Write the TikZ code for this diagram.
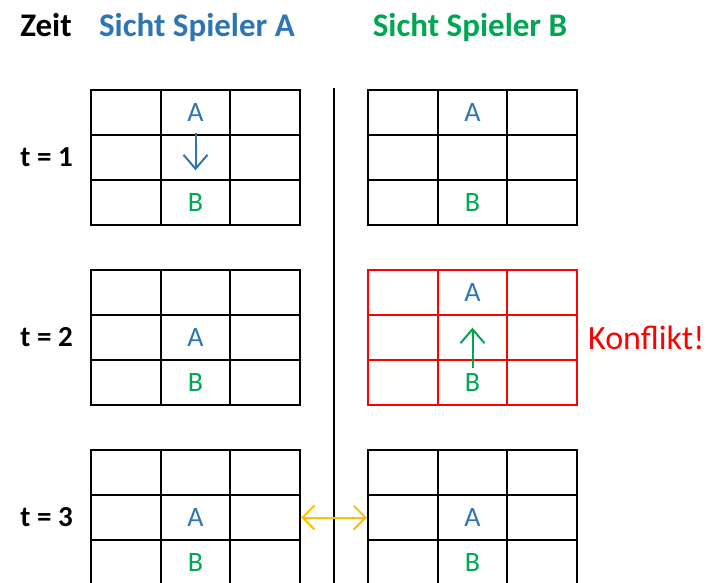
\documentclass[tikz,border=0pt]{standalone}
\usepackage{fontspec}
\setmainfont{Carlito}
\usepackage{xcolor}
\usetikzlibrary{arrows.meta, positioning}
\definecolor{spielerblau}{RGB}{46,117,182}
\definecolor{spielergruen}{RGB}{0,166,81}
\definecolor{konfliktrot}{RGB}{255,0,0}
\definecolor{tauschgelb}{RGB}{255,192,0}

\begin{document}
\begin{tikzpicture}[
    x=1pt, y=-1pt,
    feld/.style={draw=#1, line width=1.8pt, minimum width=69.67pt, minimum height=45pt, inner sep=0pt, outer sep=0pt},
    feld/.default=black,
    kopf/.style={anchor=base, inner sep=0pt, font=\fontsize{33}{33}\selectfont\bfseries},
    zeitpunkt/.style={inner sep=0pt, font=\fontsize{29}{29}\selectfont\bfseries},
    spielerA/.style={inner sep=0pt, text=spielerblau, font=\fontsize{28}{28}\selectfont},
    spielerB/.style={inner sep=0pt, text=spielergruen, font=\fontsize{28}{28}\selectfont},
    zug/.style={-{Straight Barb[length=14pt, width=24pt]}, line width=2pt},
    tausch/.style={{Straight Barb[length=12pt, width=24pt]}-{Straight Barb[length=12pt, width=24pt]}, line width=2pt, tauschgelb}
]
\useasboundingbox (0,0) rectangle (709,583);

\foreach \g/\x/\y/\c in {l1/91/90/black, l2/91/270/black, l3/91/450/black, r1/368/90/black, r2/368/270/konfliktrot, r3/368/450/black}{
    \foreach \r in {1,2,3}{
        \foreach \s in {1,2,3}{
            \node[feld=\c] (\g-\r-\s) at ({\x+(\s-0.5)*69.67}, {\y+(\r-0.5)*45}) {};
        }
    }
}

\node[kopf] (zeit) at (46,37) {Zeit};
\node[kopf, text=spielerblau] (sicht-a) at (197,37) {Sicht Spieler A};
\node[kopf, text=spielergruen] (sicht-b) at (470,37) {Sicht Spieler B};

\node[zeitpunkt, left=18pt of l1-2-1] (t1) {t = 1};
\node[zeitpunkt, left=18pt of l2-2-1] (t2) {t = 2};
\node[zeitpunkt, left=18pt of l3-2-1] (t3) {t = 3};

\node[spielerA] (l1-a) at (l1-1-2) {A};
\node[spielerB] (l1-b) at (l1-3-2) {B};
\node[spielerA] (l2-a) at (l2-2-2) {A};
\node[spielerB] (l2-b) at (l2-3-2) {B};
\node[spielerA] (l3-a) at (l3-2-2) {A};
\node[spielerB] (l3-b) at (l3-3-2) {B};
\node[spielerA] (r1-a) at (r1-1-2) {A};
\node[spielerB] (r1-b) at (r1-3-2) {B};
\node[spielerA] (r2-a) at (r2-1-2) {A};
\node[spielerB] (r2-b) at (r2-3-2) {B};
\node[spielerA] (r3-a) at (r3-2-2) {A};
\node[spielerB] (r3-b) at (r3-3-2) {B};

\node[inner sep=0pt, text=konfliktrot, font=\fontsize{34}{34}\selectfont, right=11pt of r2-2-3] (konflikt) {Konflikt!};

\coordinate (trenn-oben) at (334,88);
\coordinate (trenn-unten) at (334,590);
\draw[line width=1.8pt] (trenn-oben) -- (trenn-unten);

\draw[zug, spielerblau, shorten <=11pt, shorten >=23pt] (l1-a) -- (l1-b);
\draw[zug, spielergruen, shorten <=5pt, shorten >=26pt] (r2-b) -- (r2-a);
\draw[tausch, shorten <=1pt, shorten >=1pt] (l3-2-3.east) -- (r3-2-1.west);

\end{tikzpicture}
\end{document}
